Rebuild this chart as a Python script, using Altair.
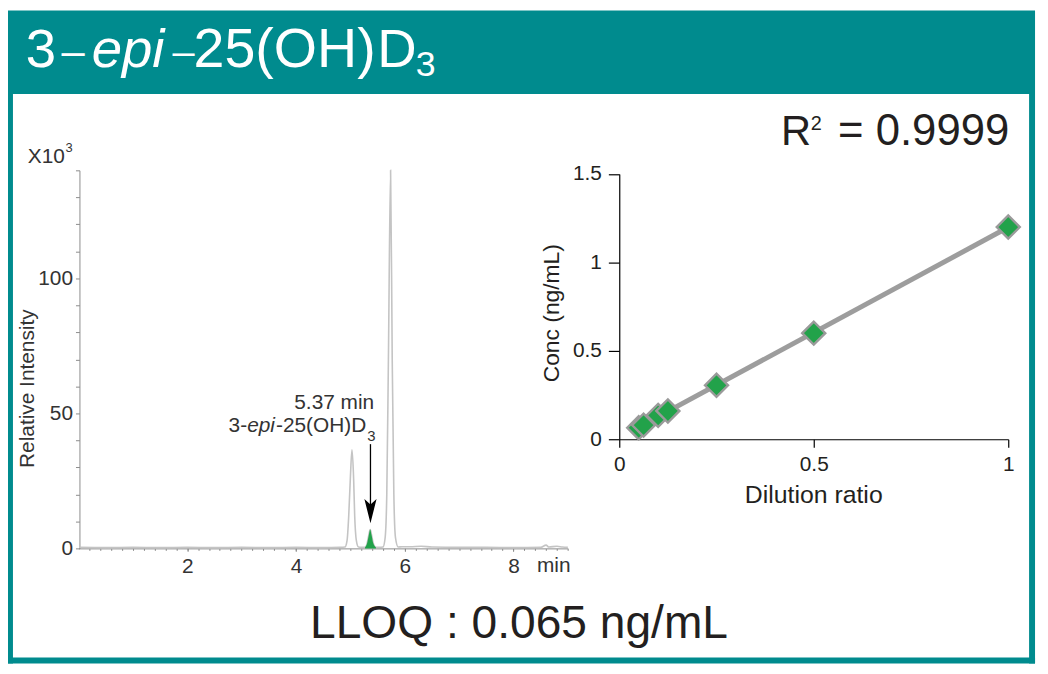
import altair as alt
import pandas as pd

# ---------------- data ----------------
trace_time = [0.02, 0.5, 1.0, 1.5, 2.0, 2.5, 3.0, 3.5, 4.0, 4.5, 4.8,
              4.90, 4.94, 4.97, 5.0, 5.03, 5.06, 5.08, 5.11, 5.15, 5.2,
              5.27, 5.31, 5.34, 5.365, 5.39, 5.42, 5.47, 5.53,
              5.60, 5.64, 5.67, 5.70, 5.74, 5.77, 5.80, 5.83, 5.88, 5.95,
              6.1, 6.3, 6.5, 7.0, 7.5, 8.0, 8.5, 8.6, 8.65, 8.8, 8.9, 9.0]
trace_int = [0.4, 0.3, 0.4, 0.3, 0.4, 0.3, 0.4, 0.3, 0.4, 0.3, 0.4,
             0.5, 3, 12, 26, 36.5, 26, 12, 3, 0.5, 0.4,
             0.4, 2, 5, 7, 5, 2, 0.4, 0.4,
             0.5, 4, 20, 70, 140, 70, 20, 4, 0.5, 0.6,
             0.6, 0.8, 0.5, 0.4, 0.4, 0.3, 0.4, 1.2, 0.5, 0.8, 0.5, 0.4]
green_time = [5.27, 5.31, 5.34, 5.365, 5.39, 5.42, 5.47]
green_int = [0.4, 2, 5, 7, 5, 2, 0.4]
peak_rt = 5.37
arrow_top, arrow_bottom, arrow_head = 38.6, 16, 13.8

chrom_y_ticks = list(range(0, 150, 10))
chrom_x_labels = [2, 4, 6, 8]
chrom_x_minor = [round(0.2 * k, 1) for k in range(1, 46)]

dilution_ratio = [0.05, 0.0625, 0.1, 0.125, 0.25, 0.5, 1.0]
conc = [0.065, 0.08, 0.135, 0.16, 0.305, 0.60, 1.20]
cal_x_ticks = [0, 0.5, 1]
cal_y_ticks = [0, 0.5, 1, 1.5]

# ---------------- layout helpers ----------------
W, H = 1040, 666
def px(x):
    return x - 8
def py(y):
    return y - 8

FONT = "Liberation Sans"
TEAL = "#008B8E"
GREEN = "#22A24A"
INK = "#231F20"
DARK = "#333333"

one = alt.InlineData(values=[{}])

def text(s, x, y, size, color=INK, align="left", style="normal", angle=0, baseline="alphabetic"):
    kw = dict(text=s, fontSize=size, font=FONT, color=color, align=align,
              baseline=baseline, fontStyle=style)
    if angle:
        kw["angle"] = angle
    return alt.Chart(one).mark_text(**kw).encode(x=alt.value(px(x)), y=alt.value(py(y)))

def rect(x1, x2, y1, y2, color):
    return alt.Chart(one).mark_rect(color=color).encode(
        x=alt.value(px(x1)), x2=alt.value(px(x2)), y=alt.value(py(y1)), y2=alt.value(py(y2)))

frame = [
    rect(8, 1043, 8, 92, TEAL),
    rect(8, 13, 92, 666, TEAL),
    rect(1037, 1043, 92, 666, TEAL),
    rect(8, 1043, 660, 666, TEAL),
]

header = [
    text("3", 26, 65, 55, "white"),
    text("\u2013", 73.5, 63, 42, "white", align="center"),
    text("epi", 129, 65, 55, "white", style="italic", align="center"),
    text("\u2013", 185, 63, 40, "white", align="center"),
    text("25(OH)", 195, 65, 56, "white"),
    text("D", 380, 65, 55, "white"),
    text("3", 419, 74, 36, "white"),
]

# ---------------- chromatogram ----------------
tr = pd.DataFrame({"t": trace_time, "i": trace_int})
gr = pd.DataFrame({"t": green_time, "i": green_int})
xs = alt.Scale(domain=[0, 9], range=[px(79), px(572.2)], nice=False, zero=False)
ys = alt.Scale(domain=[0, 140], range=[py(550), py(169)], nice=False)
GRAY_AX = "#8C8C8C"
cx_axis = alt.Axis(orient="bottom", offset=py(550) - H, values=chrom_x_labels, title=None,
                   format="d", labelFlush=False,
                   domainColor=GRAY_AX, tickColor=GRAY_AX, tickSize=3, labelFont=FONT,
                   labelFontSize=21, labelColor=DARK, labelPadding=4, grid=False)
cx_minor_axis = alt.Axis(orient="bottom", offset=py(550) - H, values=chrom_x_minor, title=None,
                         labels=False, domain=False, tickColor=GRAY_AX, tickSize=2, grid=False)
cy_axis = alt.Axis(orient="left", offset=-px(80), values=chrom_y_ticks, title=None,
                   labelExpr="datum.value % 50 === 0 ? datum.label : ''", labelOverlap=False,
                   domainColor=GRAY_AX, tickColor=GRAY_AX, tickSize=4, labelFont=FONT,
                   labelFontSize=21, labelColor=DARK, labelPadding=3, grid=False)

chrom_line = alt.Chart(tr).mark_line(color="#C4C4C4", strokeWidth=1.6, interpolate="monotone").encode(
    x=alt.X("t:Q", scale=xs, axis=cx_axis), y=alt.Y("i:Q", scale=ys, axis=cy_axis))
green_area = alt.Chart(gr).mark_area(color=GREEN, interpolate="monotone").encode(
    x=alt.X("t:Q", scale=xs), y=alt.Y("i:Q", scale=ys))
arrow_rule = alt.Chart(one).mark_rule(color="black", strokeWidth=1.3).encode(
    x=alt.datum(peak_rt, scale=xs), y=alt.datum(arrow_top, scale=ys), y2=alt.datum(arrow_bottom))
arrow_tip = alt.Chart(one).mark_point(shape="M-0.5,-1L0,-0.55L0.5,-1L0,1Z", filled=True,
                                      color="black", size=600, opacity=1).encode(
    x=alt.datum(peak_rt, scale=xs), y=alt.datum(arrow_head, scale=ys))
chrom = alt.layer(chrom_line, green_area, arrow_rule, arrow_tip)

# invisible twin of the trace that only carries the minor time ticks
chrom_minor = alt.Chart(tr).mark_line(opacity=0).encode(
    x=alt.X("t:Q", scale=xs, axis=cx_minor_axis), y=alt.Y("i:Q", scale=ys, axis=None))

chrom_text = [
    text("X10", 28, 162, 21, DARK),
    text("3", 66, 151, 13, DARK),
    text("Relative Intensity", 34, 389, 21, DARK, align="center", angle=270),
    text("min", 541, 574, 21, DARK),
    text("5.37 min", 377, 410, 21, DARK, align="right"),
    text("3-", 249, 433, 21, DARK, align="right"),
    text("epi", 277, 433, 21, DARK, style="italic", align="right"),
    text("-25(OH)D", 369, 433, 21, DARK, align="right"),
    text("3", 370, 442, 15, DARK),
]

# ---------------- calibration ----------------
cal = pd.DataFrame({"ratio": dilution_ratio, "conc": conc})
cxs = alt.Scale(domain=[0, 1], range=[px(624), px(1016)], nice=False, zero=False)
cys = alt.Scale(domain=[0, 1.5], range=[py(440), py(172.7)], nice=False)
kx_axis = alt.Axis(orient="bottom", offset=py(440) - H, values=cal_x_ticks, title=None, format="~g",
                   domainColor="black", tickColor="black", tickSize=8, domainWidth=1.2, tickWidth=1.2,
                   labelFont=FONT, labelFontSize=21, labelColor=INK, labelPadding=7, grid=False,
                   labelFlush=False)
ky_axis = alt.Axis(orient="left", offset=-px(624), values=cal_y_ticks, title=None, format="~g",
                   domainColor="black", tickColor="black", tickSize=11, domainWidth=1.2, tickWidth=1.2,
                   labelFont=FONT, labelFontSize=21, labelColor=INK, labelPadding=7, grid=False,
                   labelFlush=False)
fit = alt.Chart(cal).transform_regression("ratio", "conc", extent=[0.05, 1.0]).mark_line(
    color="#9D9D9D", strokeWidth=5).encode(
    x=alt.X("ratio:Q", scale=cxs, axis=kx_axis), y=alt.Y("conc:Q", scale=cys, axis=ky_axis))
pts = alt.Chart(cal).mark_point(shape="diamond", filled=True, fill=GREEN, stroke="#9A9A9A",
                                strokeWidth=2.4, size=540, opacity=1, fillOpacity=1,
                                strokeOpacity=1).encode(
    x=alt.X("ratio:Q", scale=cxs), y=alt.Y("conc:Q", scale=cys))
calib = alt.layer(fit, pts)

cal_text = [
    text("Conc (ng/mL)", 563, 313, 23, INK, align="center", angle=270),
    text("Dilution ratio", 820, 504, 25, INK, align="center"),
    text("R", 787, 143, 42, INK),
    text("2", 817, 128, 20, INK),
    text("= 0.9999", 1017, 143, 44, INK, align="right"),
    text("LLOQ : 0.065 ng/mL", 523, 640, 46.5, INK, align="center"),
]

chart = alt.layer(*frame, *header, chrom_minor, chrom, *chrom_text, calib, *cal_text).resolve_scale(
    x="independent", y="independent").properties(
    width=W, height=H, autosize=alt.AutoSizeParams(type="none"), padding=0,
    background="white").configure_view(strokeWidth=0)

chart.save("out.html", embed_options={"renderer": "svg", "actions": False})
